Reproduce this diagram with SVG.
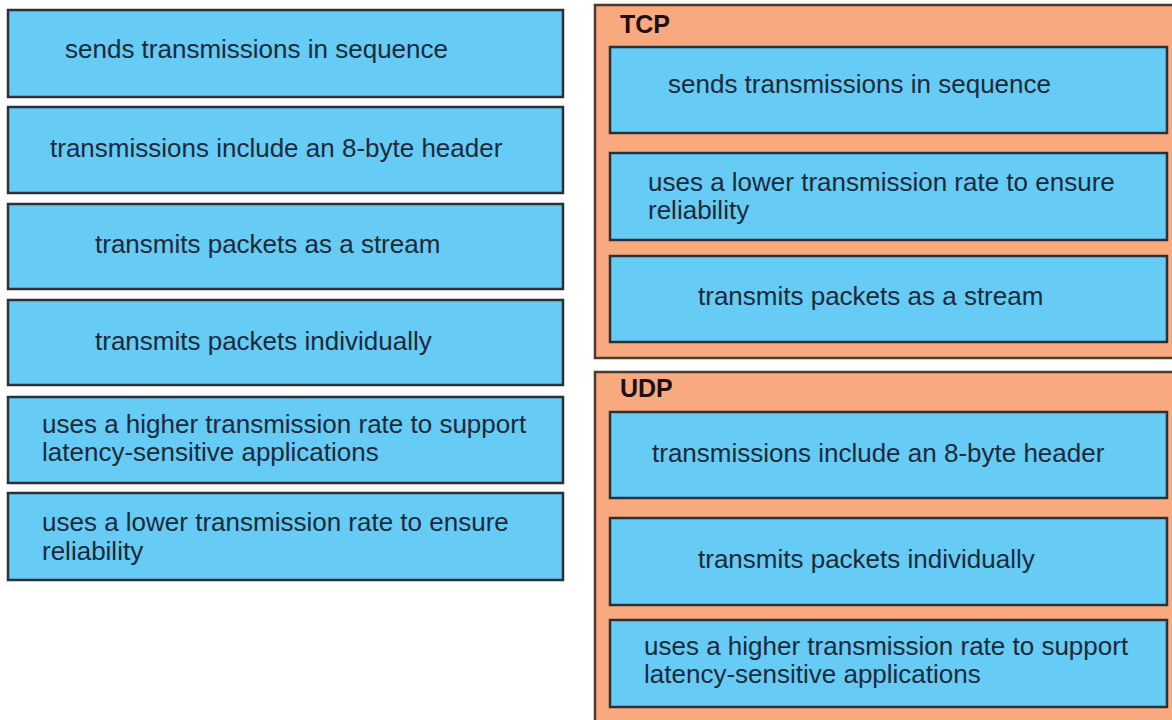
<svg xmlns="http://www.w3.org/2000/svg" width="1172" height="720" viewBox="0 0 1172 720">
<style>
.box{fill:#66CBF5;stroke:#2a3038;stroke-width:2.5}
.grp{fill:#F8AA7E;stroke:#4a3a32;stroke-width:2.5}
.t{font-family:"Liberation Sans",Arial,sans-serif;font-size:26px;fill:#1c2a3a}
.h{font-family:"Liberation Sans",Arial,sans-serif;font-size:25px;font-weight:bold;fill:#1e1010}
</style>
<rect width="1172" height="720" fill="#ffffff"/>
<g id="left-1"><rect class="box" x="8" y="10" width="555" height="87"/><text class="t" x="65" y="58">sends transmissions in sequence</text></g>
<g id="left-2"><rect class="box" x="8" y="107" width="555" height="86"/><text class="t" x="50" y="157">transmissions include an 8-byte header</text></g>
<g id="left-3"><rect class="box" x="8" y="204" width="555" height="85"/><text class="t" x="95" y="253">transmits packets as a stream</text></g>
<g id="left-4"><rect class="box" x="8" y="300" width="555" height="85"/><text class="t" x="95" y="350">transmits packets individually</text></g>
<g id="left-5"><rect class="box" x="8" y="397" width="555" height="86"/><text class="t" x="42" y="433">uses a higher transmission rate to support</text><text class="t" x="42" y="461">latency-sensitive applications</text></g>
<g id="left-6"><rect class="box" x="8" y="493" width="555" height="87"/><text class="t" x="42" y="531">uses a lower transmission rate to ensure</text><text class="t" x="42" y="560">reliability</text></g>
<g id="tcp">
<rect class="grp" x="595" y="5" width="590" height="353"/>
<text class="h" x="620" y="33">TCP</text>
<g id="tcp-1"><rect class="box" x="610" y="47" width="557" height="86"/><text class="t" x="668" y="93">sends transmissions in sequence</text></g>
<g id="tcp-2"><rect class="box" x="610" y="153" width="557" height="87"/><text class="t" x="648" y="191">uses a lower transmission rate to ensure</text><text class="t" x="648" y="219">reliability</text></g>
<g id="tcp-3"><rect class="box" x="610" y="256" width="557" height="86"/><text class="t" x="698" y="305">transmits packets as a stream</text></g>
</g>
<g id="udp">
<rect class="grp" x="595" y="372" width="590" height="360"/>
<text class="h" x="620" y="397">UDP</text>
<g id="udp-1"><rect class="box" x="610" y="412" width="557" height="86"/><text class="t" x="652" y="462">transmissions include an 8-byte header</text></g>
<g id="udp-2"><rect class="box" x="610" y="518" width="557" height="87"/><text class="t" x="698" y="568">transmits packets individually</text></g>
<g id="udp-3"><rect class="box" x="610" y="620" width="557" height="87"/><text class="t" x="644" y="655">uses a higher transmission rate to support</text><text class="t" x="644" y="683">latency-sensitive applications</text></g>
</g>
<g id="connectors"></g>
</svg>
